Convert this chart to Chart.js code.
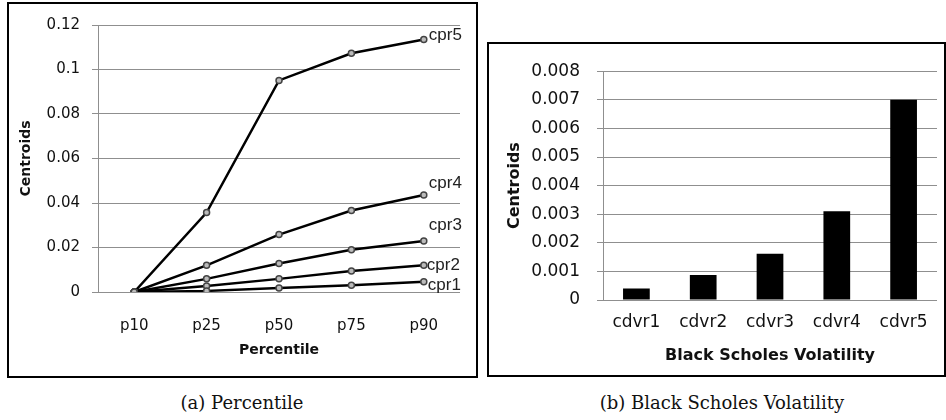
<!DOCTYPE html>
<html>
<head>
<meta charset="utf-8">
<script src="https://cdn.jsdelivr.net/npm/chart.js@4"></script>
<style>
  body { margin: 0; background: #fff; width: 946px; height: 420px; position: relative; overflow: hidden; }
  .box { position: absolute; border: 2px solid #000; background: #fff; }
  .box canvas { display: block; }
  .cap { position: absolute; font-family: "DejaVu Serif", serif; font-size: 18px; color: #111; text-align: center; white-space: nowrap; }
</style>
</head>
<body>
<div class="box" style="left:7px;top:2px;width:467px;height:372px;">
  <canvas id="left" width="467" height="372" style="width:467px;height:372px"></canvas>
</div>
<div class="box" style="left:487px;top:42px;width:455px;height:331px;">
  <canvas id="right" width="455" height="331" style="width:455px;height:331px"></canvas>
</div>
<div class="cap" style="left:92px;top:392px;width:300px;">(a) Percentile</div>
<div class="cap" style="left:572px;top:392px;width:300px;">(b) Black Scholes Volatility</div>

<script>
// left: percentile line chart
const percentiles = ["p10", "p25", "p50", "p75", "p90"];
const cprNames = ["cpr1", "cpr2", "cpr3", "cpr4", "cpr5"];
const cpr1 = [0, 0.0005, 0.0018, 0.003, 0.0046];
const cpr2 = [0, 0.0027, 0.0059, 0.0094, 0.012];
const cpr3 = [0, 0.0059, 0.0128, 0.019, 0.0229];
const cpr4 = [0, 0.012, 0.0258, 0.0366, 0.0436];
const cpr5 = [0, 0.0357, 0.0951, 0.1073, 0.1135];
const leftYTicks = [0, 0.02, 0.04, 0.06, 0.08, 0.1, 0.12];

// right: black scholes bars
const volCats = ["cdvr1", "cdvr2", "cdvr3", "cdvr4", "cdvr5"];
const volValues = [0.0004, 0.00087, 0.00162, 0.0031, 0.007];
const rightYTicks = [0, 0.001, 0.002, 0.003, 0.004, 0.005, 0.006, 0.007, 0.008];

const gridGray = "#8f8f8f";
const tickColor = "#111";

// where each end label sits relative to the last point
const labelShift = { cpr1: [4, 4], cpr2: [3, 0], cpr3: [5, -16], cpr4: [5, -12], cpr5: [5, -4] };

const endLabels = {
  id: "endLabels",
  afterDatasetsDraw(chart) {
    const c = chart.ctx;
    c.save();
    c.font = "17px 'Liberation Sans', Arial, sans-serif";
    c.fillStyle = "#222";
    c.textAlign = "left";
    c.textBaseline = "middle";
    chart.data.datasets.forEach((ds, i) => {
      const pts = chart.getDatasetMeta(i).data;
      const last = pts[pts.length - 1];
      const s = labelShift[ds.label] || [4, 0];
      c.fillText(ds.label, last.x + s[0], last.y + s[1]);
    });
    c.restore();
  }
};

function lineSet(name, values) {
  return {
    label: name,
    data: values,
    borderColor: "#000",
    borderWidth: 2.5,
    tension: 0,
    pointRadius: 3,
    pointBorderWidth: 1.5,
    pointBorderColor: "#444",
    pointBackgroundColor: "#bbb"
  };
}

const serieValues = [cpr1, cpr2, cpr3, cpr4, cpr5];

new Chart(document.getElementById("left").getContext("2d"), {
  type: "line",
  data: {
    labels: percentiles,
    datasets: cprNames.map((n, i) => lineSet(n, serieValues[i]))
  },
  options: {
    responsive: false,
    animation: false,
    layout: { padding: { left: 0, right: 16, top: 19, bottom: 0 } },
    plugins: { legend: { display: false }, tooltip: { enabled: false } },
    scales: {
      x: {
        offset: true,
        grid: { display: false },
        border: { display: false },
        ticks: { color: tickColor, padding: 17, font: { family: "'DejaVu Sans'", size: 15 } },
        title: { display: true, text: "Percentile", color: "#111", padding: { top: 0, bottom: 17 },
                 font: { family: "'DejaVu Sans'", size: 14, weight: "bold" } },
        afterFit: s => { s.height = 84; }
      },
      y: {
        min: 0, max: 0.12,
        afterBuildTicks: s => { s.ticks = leftYTicks.map(v => ({ value: v })); },
        grid: { color: gridGray, lineWidth: 1, tickLength: 6 },
        border: { color: gridGray, width: 1 },
        ticks: { color: tickColor, padding: 12, font: { family: "'DejaVu Sans'", size: 15 },
                 callback: v => String(v) },
        title: { display: true, text: "Centroids", color: "#111", padding: { top: 9, bottom: 0 },
                 font: { family: "'DejaVu Sans'", size: 14, weight: "bold" } },
        afterFit: s => { s.width = 89; }
      }
    }
  },
  plugins: [endLabels]
});

new Chart(document.getElementById("right").getContext("2d"), {
  type: "bar",
  data: {
    labels: volCats,
    datasets: [{
      label: "Centroids",
      data: volValues,
      backgroundColor: "#000",
      borderWidth: 0,
      barPercentage: 0.4,
      categoryPercentage: 1
    }]
  },
  options: {
    responsive: false,
    animation: false,
    layout: { padding: { left: 0, right: 7, top: 24, bottom: 0 } },
    plugins: { legend: { display: false }, tooltip: { enabled: false } },
    scales: {
      x: {
        grid: { display: false },
        border: { display: false },
        ticks: { color: tickColor, padding: 4, font: { family: "'DejaVu Sans'", size: 17 } },
        title: { display: true, text: "Black Scholes Volatility", color: "#111", padding: { top: 0, bottom: 10 },
                 font: { family: "'DejaVu Sans'", size: 16, weight: "bold" } },
        afterFit: s => { s.height = 75; }
      },
      y: {
        min: 0, max: 0.008,
        afterBuildTicks: s => { s.ticks = rightYTicks.map(v => ({ value: v })); },
        grid: { color: gridGray, lineWidth: 1, tickLength: 6 },
        border: { color: gridGray, width: 1 },
        ticks: { color: tickColor, padding: 17, font: { family: "'DejaVu Sans'", size: 17 },
                 callback: v => String(v) },
        title: { display: true, text: "Centroids", color: "#111", padding: { top: 16, bottom: 0 },
                 font: { family: "'DejaVu Sans'", size: 16, weight: "bold" } },
        afterFit: s => { s.width = 114; }
      }
    }
  }
});
</script>
</body>
</html>
